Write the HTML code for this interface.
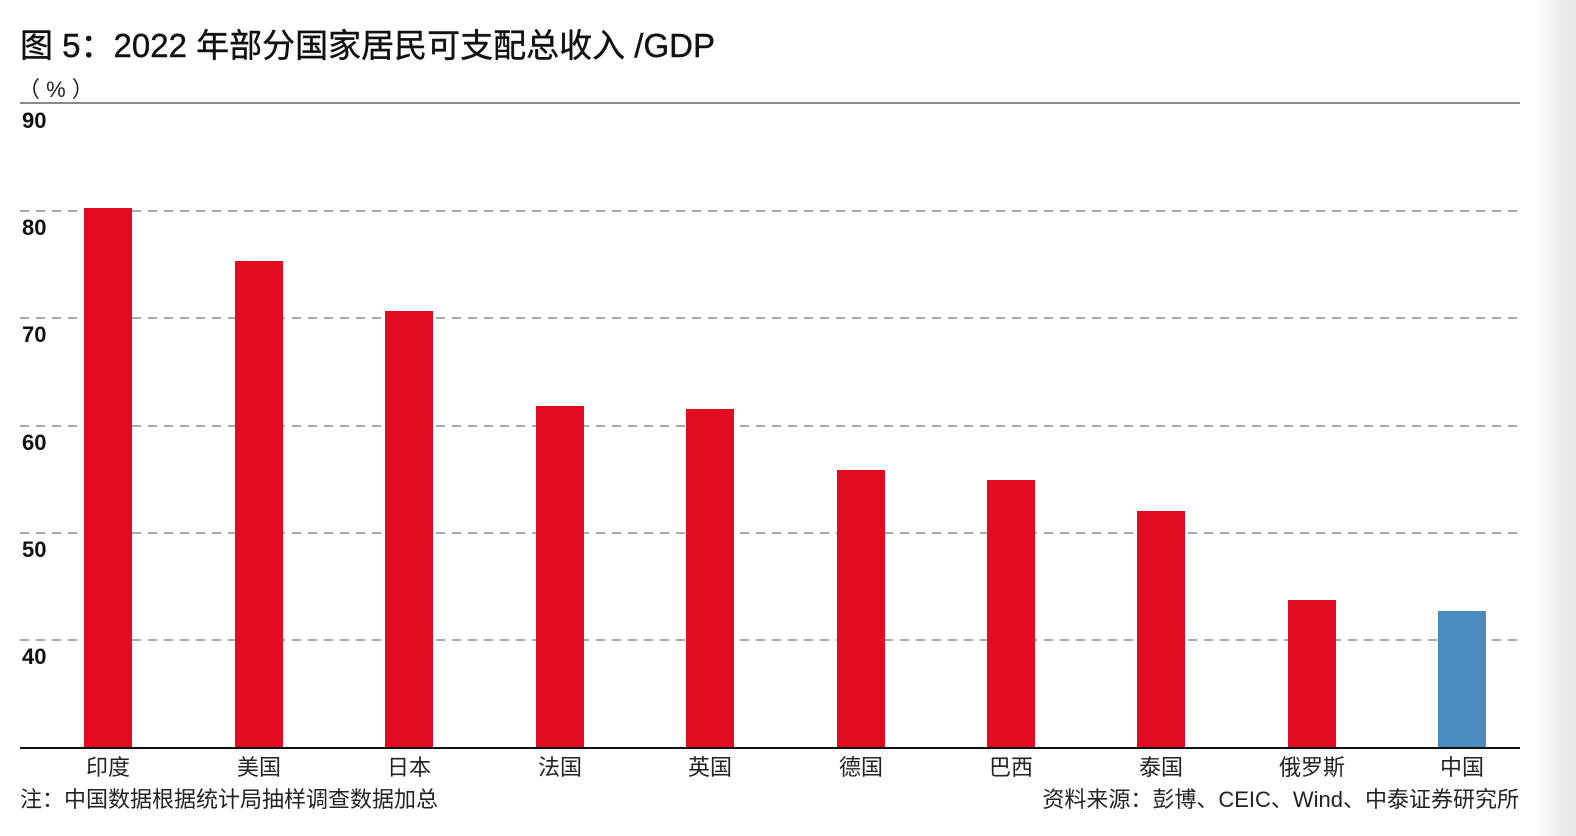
<!DOCTYPE html>
<html><head><meta charset="utf-8"><style>
html,body{margin:0;padding:0;background:#fff;}
body{width:1576px;height:836px;overflow:hidden;position:relative;font-family:"Liberation Sans","Noto Sans CJK SC",sans-serif;}
.edge{position:absolute;left:1536px;top:0;width:40px;height:836px;background:linear-gradient(to right,#fff,#ececec 60%,#e6e6e6);}
</style></head><body>
<div class="edge"></div>
<svg width="1576" height="836" style="position:absolute;left:0;top:0" font-family="Liberation Sans, Noto Sans CJK SC, sans-serif">
<text x="20" y="57" font-size="33" fill="#111" stroke="#111" stroke-width="0.4">图 5：2022 年部分国家居民可支配总收入 /GDP</text>
<text x="18" y="97" font-size="22" fill="#222">（ % ）</text>
<line x1="20" y1="103" x2="1520" y2="103" stroke="#888" stroke-width="2"/>
<g stroke="#777" stroke-width="1.3" stroke-dasharray="9,7">
<line x1="20" y1="211" x2="1520" y2="211"/>
<line x1="20" y1="318" x2="1520" y2="318"/>
<line x1="20" y1="426" x2="1520" y2="426"/>
<line x1="20" y1="533" x2="1520" y2="533"/>
<line x1="20" y1="640" x2="1520" y2="640"/>
</g>
<g font-size="22" font-weight="bold" fill="#111">
<text x="22" y="128">90</text><text x="22" y="235">80</text><text x="22" y="342">70</text>
<text x="22" y="450">60</text><text x="22" y="557">50</text><text x="22" y="664">40</text>
</g>
<g fill="#e20b21">
<rect x="84" y="208" width="48" height="540"/>
<rect x="235" y="261" width="48" height="487"/>
<rect x="385" y="311" width="48" height="437"/>
<rect x="536" y="406" width="48" height="342"/>
<rect x="686" y="409" width="48" height="339"/>
<rect x="837" y="470" width="48" height="278"/>
<rect x="987" y="480" width="48" height="268"/>
<rect x="1137" y="511" width="48" height="237"/>
<rect x="1288" y="600" width="48" height="148"/>
</g>
<rect x="1438" y="611" width="48" height="137" fill="#4a8abf"/>
<line x1="20" y1="748" x2="1520" y2="748" stroke="#111" stroke-width="2"/>
<g font-size="22" fill="#222" text-anchor="middle">
<text x="108" y="775">印度</text><text x="259" y="775">美国</text><text x="409" y="775">日本</text>
<text x="560" y="775">法国</text><text x="710" y="775">英国</text><text x="861" y="775">德国</text>
<text x="1011" y="775">巴西</text><text x="1161" y="775">泰国</text><text x="1312" y="775">俄罗斯</text>
<text x="1462" y="775">中国</text>
</g>
<text x="20" y="807" font-size="22" fill="#222">注：中国数据根据统计局抽样调查数据加总</text>
<text x="1519" y="807" font-size="22" fill="#222" text-anchor="end">资料来源：彭博、CEIC、Wind、中泰证券研究所</text>
</svg>
</body></html>
